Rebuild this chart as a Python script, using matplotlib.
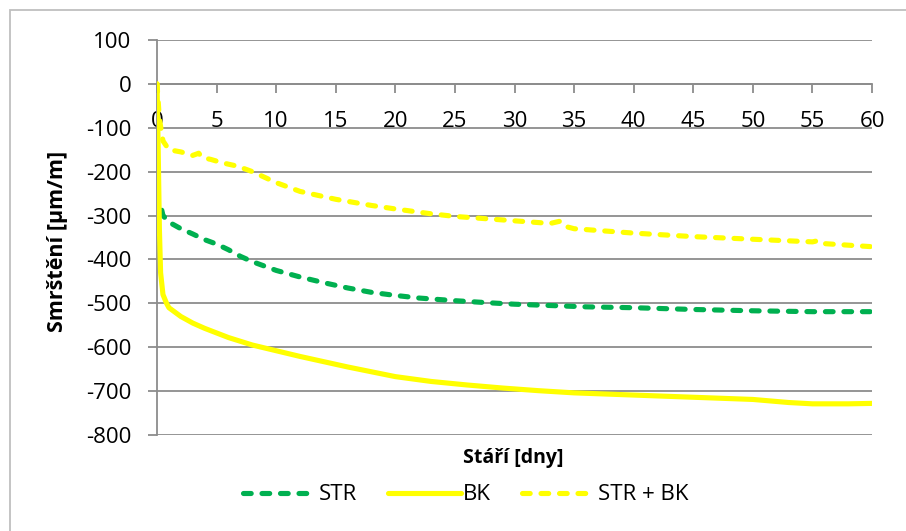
import matplotlib
matplotlib.use("Agg")
import matplotlib.pyplot as plt
from matplotlib.patches import Rectangle

plt.rcParams['font.family'] = ['Open Sans', 'DejaVu Sans']
plt.rcParams['axes.unicode_minus'] = False

# STR (green dashed)
str_days = [0.4, 0.5, 1, 2, 3, 4, 5, 6, 7, 8, 10, 12, 14, 16, 18, 20, 22, 25,
            28, 30, 33, 36, 40, 45, 50, 55, 60]
str_vals = [-288, -300, -315, -330, -342, -355, -365, -378, -393, -405, -425,
            -440, -453, -465, -475, -482, -488, -494, -499, -502, -505, -508,
            -510, -514, -517, -519, -519]

# BK (yellow solid)
bk_days = [0, 0.1, 0.2, 0.3, 0.5, 0.8, 1, 2, 3, 4, 6, 8, 10, 12, 14, 16, 18,
           20, 23, 26, 29, 32, 35, 40, 45, 50, 53, 55, 58, 60]
bk_vals = [0, -150, -330, -430, -480, -500, -510, -530, -545, -557, -578, -595,
           -608, -621, -633, -645, -656, -667, -678, -686, -693, -699, -704,
           -709, -714, -719, -726, -729, -729, -728]

# STR + BK (yellow dashed)
sb_days = [0, 0.2, 0.5, 1, 2, 3, 3.5, 3.8, 4.5, 5.5, 6.5, 7, 8, 10, 12, 15, 18,
           20, 23, 25, 28, 30, 33, 33.8, 34.3, 35, 38, 40, 45, 50, 55, 55.5,
           56, 60]
sb_vals = [0, -80, -130, -150, -155, -163, -158, -168, -172, -180, -186, -190,
           -200, -225, -245, -263, -277, -285, -296, -302, -308, -312, -318,
           -313, -325, -330, -336, -340, -348, -354, -360, -357, -364, -371]

x_ticks = list(range(0, 61, 5))
y_ticks = list(range(-800, 101, 100))

fig = plt.figure(figsize=(9.06, 5.31), dpi=100)
ax = fig.add_axes([0.1733, 0.1808, 0.7892, 0.7439])

grey = '#8c8c8c'
ax.plot(str_days, str_vals, color='#00b050', lw=3.7, dashes=(1.5, 2.1),
        dash_capstyle='round', label='STR', zorder=3)
ax.plot(bk_days, bk_vals, color='#ffff00', lw=3.7, solid_capstyle='round',
        label='BK', zorder=3)
ax.plot(sb_days, sb_vals, color='#ffff00', lw=3.7, dashes=(1.5, 2.1),
        dash_capstyle='round', label='STR + BK', zorder=3)

ax.set_xlim(0, 60)
ax.set_ylim(-800, 100)
ax.set_xticks(x_ticks)
ax.set_yticks(y_ticks)
ax.grid(axis='y', color=grey, lw=1.3)
ax.set_axisbelow(True)

for s in ['top', 'right']:
    ax.spines[s].set_visible(False)
ax.spines['bottom'].set_position(('data', 0))
for s in ['left', 'bottom']:
    ax.spines[s].set_color(grey)
    ax.spines[s].set_linewidth(1.3)
ax.tick_params(axis='both', direction='out', length=6.5, width=1.3,
               color=grey, labelsize=16)
ax.tick_params(axis='y', pad=12)
ax.tick_params(axis='x', pad=13)

fig.text(0.566, 0.137, 'Stáří [dny]', ha='center', va='center',
         fontsize=14, fontweight='bold')
fig.text(0.064, 0.546, 'Smrštění [µm/m]', ha='center', va='center',
         rotation=90, fontsize=15.5, fontweight='bold')

fig.legend(loc='center', bbox_to_anchor=(0.514, 0.068), ncol=3, frameon=False,
           fontsize=16, handlelength=3.3, handletextpad=0.1, columnspacing=1.4)

fig.patches.append(Rectangle((0.011, -0.05), 1.2, 1.031, transform=fig.transFigure,
                             fill=False, edgecolor='#bfbfbf', lw=1.3))

fig.savefig('out.png', dpi=100)
